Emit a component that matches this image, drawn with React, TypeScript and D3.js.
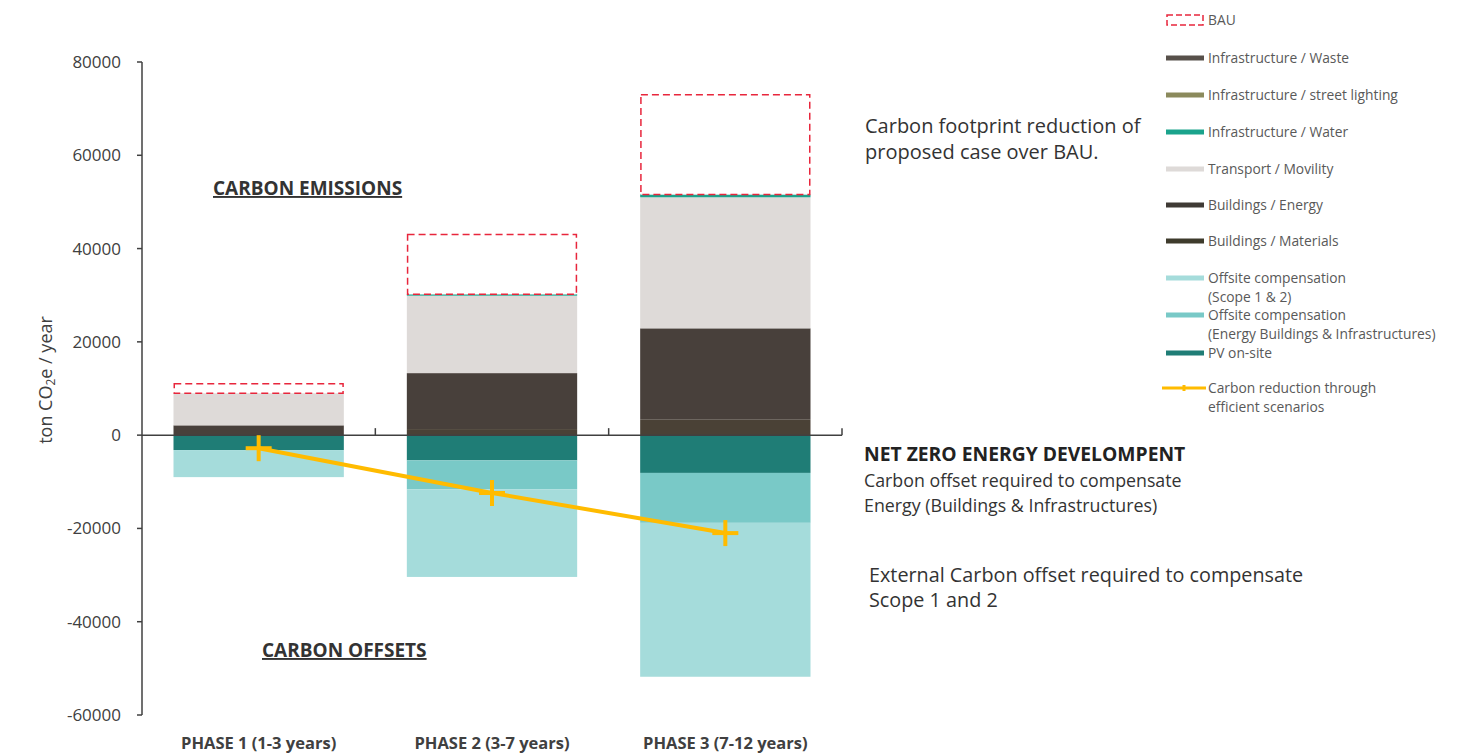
import React from "react";
import * as d3 from "d3";

const categories = ["PHASE 1 (1-3 years)", "PHASE 2 (3-7 years)", "PHASE 3 (7-12 years)"];
const bau = [11000, 43000, 73000];
const buildingsMaterials = [0, 1300, 3400];
const buildingsEnergy = [2100, 12000, 19500];
const transport = [6900, 16600, 28100];
const infraWater = [0, 300, 600];
const infraStreetLighting = [0, 0, 0];
const infraWaste = [0, 0, 0];
const pvOnsite = [-3200, -5400, -8100];
const offsiteEnergy = [0, -6200, -10700];
const offsiteScope = [-5800, -18800, -33000];
const carbonReduction = [-2800, -12400, -21000];
const yTicks = [80000, 60000, 40000, 20000, 0, -20000, -40000, -60000];

const positiveSeries = [
  { name: "Buildings / Materials", values: buildingsMaterials, color: "#4a4136" },
  { name: "Buildings / Energy", values: buildingsEnergy, color: "#48403b" },
  { name: "Transport / Movility", values: transport, color: "#dedad8" },
  { name: "Infrastructure / Water", values: infraWater, color: "#1aa38c" },
  { name: "Infrastructure / street lighting", values: infraStreetLighting, color: "#8b8a5c" },
  { name: "Infrastructure / Waste", values: infraWaste, color: "#57504a" },
];
const negativeSeries = [
  { name: "PV on-site", values: pvOnsite, color: "#1f7d76" },
  { name: "Offsite compensation (Energy Buildings & Infrastructures)", values: offsiteEnergy, color: "#79c9c7" },
  { name: "Offsite compensation (Scope 1 & 2)", values: offsiteScope, color: "#a5dcdb" },
];

const legendItems = [
  { kind: "bau", lines: ["BAU"], color: "#e8263c", y: 20 },
  { kind: "bar", lines: ["Infrastructure / Waste"], color: "#57504a", y: 58 },
  { kind: "bar", lines: ["Infrastructure / street lighting"], color: "#8b8a5c", y: 95 },
  { kind: "bar", lines: ["Infrastructure / Water"], color: "#1aa38c", y: 132 },
  { kind: "bar", lines: ["Transport / Movility"], color: "#dedad8", y: 169 },
  { kind: "bar", lines: ["Buildings / Energy"], color: "#3f3a35", y: 205 },
  { kind: "bar", lines: ["Buildings / Materials"], color: "#3e3b2c", y: 241 },
  { kind: "bar", lines: ["Offsite compensation", "(Scope 1 & 2)"], color: "#a5dcdb", y: 278 },
  { kind: "bar", lines: ["Offsite compensation", "(Energy Buildings & Infrastructures)"], color: "#79c9c7", y: 315 },
  { kind: "bar", lines: ["PV on-site"], color: "#1f7d76", y: 353 },
  { kind: "line", lines: ["Carbon reduction through", "efficient scenarios"], color: "#ffbb00", y: 388 },
];

const FONT = "'Open Sans', 'Noto Sans', sans-serif";

export default function App() {
  const W = 1483;
  const H = 754;
  const x = d3.scaleBand<string>().domain(categories).range([142, 842]).paddingInner(0.27).paddingOuter(0.135);
  const y = d3.scaleLinear().domain([-60000, 80000]).range([715, 62]);
  const y0 = y(0);
  const bw = x.bandwidth();
  const step = x.step();

  const rects: React.ReactNode[] = [];
  categories.forEach((c, i) => {
    let acc = 0;
    positiveSeries.forEach((s) => {
      const v = s.values[i];
      if (v > 0) {
        rects.push(
          <rect key={`p-${s.name}-${i}`} x={x(c)} y={y(acc + v)} width={bw} height={y(acc) - y(acc + v)} fill={s.color} />
        );
      }
      acc += v;
    });
    const top = acc;
    if (bau[i] > top) {
      rects.push(
        <rect key={`bau-${i}`} x={x(c)! + 0.75} y={y(bau[i])} width={bw - 1.5} height={y(top) - y(bau[i])} fill="white"
          stroke="#e8263c" strokeWidth={1.5} strokeDasharray="7,4" />
      );
    }
    let nacc = 0;
    negativeSeries.forEach((s) => {
      const v = s.values[i];
      if (v < 0) {
        rects.push(
          <rect key={`n-${s.name}-${i}`} x={x(c)} y={y(nacc)} width={bw} height={y(nacc + v) - y(nacc)} fill={s.color} />
        );
      }
      nacc += v;
    });
  });

  const line = d3.line<number>().x((_, i) => x(categories[i])! + bw / 2).y((d) => y(d));

  return (
    <svg width={W} height={H} style={{ position: "absolute", left: 0, top: 0, background: "white" }} fontFamily={FONT}>
      {rects}
      {/* y axis */}
      <line x1={142} x2={142} y1={y(80000)} y2={y(-60000)} stroke="#404040" strokeWidth={1.5} />
      {yTicks.map((t) => (
        <g key={t}>
          <line x1={137} x2={142} y1={y(t)} y2={y(t)} stroke="#404040" strokeWidth={1.5} />
          <text x={121} y={y(t)} dy="0.35em" textAnchor="end" fontSize={17} fill="#404040">{t}</text>
        </g>
      ))}
      {/* x axis */}
      <line x1={142} x2={842} y1={y0} y2={y0} stroke="#404040" strokeWidth={1.5} />
      {categories.map((c, i) => (
        <line key={`xt-${i}`} x1={x(c)! + bw + (step - bw) / 2} x2={x(c)! + bw + (step - bw) / 2} y1={y0} y2={y0 - 7} stroke="#404040" strokeWidth={1.5} />
      ))}
      {categories.map((c) => (
        <text key={`xl-${c}`} x={x(c)! + bw / 2} y={749} textAnchor="middle" fontSize={16.5} fontWeight="bold" fill="#404040">{c}</text>
      ))}
      {/* y label */}
      <text transform={`translate(52,${380}) rotate(-90)`} textAnchor="middle" fontSize={18} fill="#404040">
        ton CO<tspan fontSize={12} dy={3}>2</tspan><tspan dy={-3}>e / year</tspan>
      </text>
      {/* carbon reduction line */}
      <path d={line(carbonReduction) ?? ""} fill="none" stroke="#ffbb00" strokeWidth={4} />
      {carbonReduction.map((v, i) => {
        const cx = x(categories[i])! + bw / 2;
        const cy = y(v);
        return (
          <g key={`m-${i}`} stroke="#ffbb00" strokeWidth={4}>
            <line x1={cx - 13} x2={cx + 13} y1={cy} y2={cy} />
            <line x1={cx} x2={cx} y1={cy - 13} y2={cy + 13} />
          </g>
        );
      })}
      {/* annotations */}
      <text x={213} y={195} fontSize={19} fontWeight="bold" fill="#333" textDecoration="underline">CARBON EMISSIONS</text>
      <text x={262} y={657} fontSize={19} fontWeight="bold" fill="#333" textDecoration="underline">CARBON OFFSETS</text>
      <text x={865} y={133} fontSize={20} fill="#333">Carbon footprint reduction of</text>
      <text x={865} y={159} fontSize={20} fill="#333">proposed case over BAU.</text>
      <text x={864} y={461} fontSize={19.3} fontWeight="bold" fill="#222">NET ZERO ENERGY DEVELOMPENT</text>
      <text x={864} y={487} fontSize={17.8} fill="#333">Carbon offset required to compensate</text>
      <text x={864} y={512} fontSize={17.8} fill="#333">Energy (Buildings &amp; Infrastructures)</text>
      <text x={869} y={582} fontSize={19.8} fill="#333">External Carbon offset required to compensate</text>
      <text x={869} y={607} fontSize={19.8} fill="#333">Scope 1 and 2</text>
      {/* legend */}
      {legendItems.map((it) => (
        <g key={it.lines[0] + it.y}>
          {it.kind === "bau" && (
            <rect x={1167} y={it.y - 5} width={36} height={10} fill="white" stroke="#e8263c" strokeWidth={1.5} strokeDasharray="6,3" />
          )}
          {it.kind === "bar" && <rect x={1166} y={it.y - 2.5} width={38} height={5} fill={it.color} />}
          {it.kind === "line" && (
            <g stroke={it.color} strokeWidth={3}>
              <line x1={1162} x2={1206} y1={it.y} y2={it.y} />
              <line x1={1184} x2={1184} y1={it.y - 3} y2={it.y + 3} />
            </g>
          )}
          {it.lines.map((l, j) => (
            <text key={j} x={1208} y={it.y + j * 19} dy="0.35em" fontSize={13.8} fill="#595959">{l}</text>
          ))}
        </g>
      ))}
    </svg>
  );
}
